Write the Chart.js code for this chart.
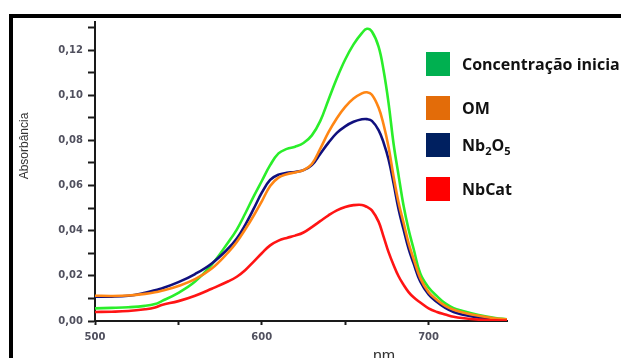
<!DOCTYPE html>
<html>
<head>
<meta charset="utf-8">
<script src="https://cdn.jsdelivr.net/npm/chart.js@4/dist/chart.umd.min.js"></script>
<style>
  html, body { margin: 0; padding: 0; background: #fff; overflow: hidden; }
  #wrap { position: relative; width: 621px; height: 358px; }
  #frame { position: absolute; left: 9px; top: 14px; width: 700px; height: 400px;
           border-top: 4px solid #000; border-left: 4px solid #000; pointer-events: none; }
  #chartBox { position: absolute; left: 0; top: 0; width: 621px; height: 358px; }
  .ytitle { position: absolute; left: 24px; top: 146px; transform: translate(-50%, -50%) rotate(-90deg);
            font: 12px "Liberation Sans", Arial, sans-serif; color: #333; white-space: nowrap; }
  .xtitle { position: absolute; left: 384px; top: 348px; transform: translateX(-50%);
            font: 16px/16px "Liberation Sans", Arial, sans-serif; color: #333; }
  .legend { position: absolute; left: 426px; top: 0; font: bold 16px "Open Sans", sans-serif; color: #111; }
  .legend .row { position: absolute; left: 0; display: flex; align-items: center; height: 24px; white-space: nowrap; }
  .legend .sw { width: 24px; height: 24px; flex: none; }
  .legend .txt { margin-left: 12px; }
  .legend sub { font-size: 11px; vertical-align: -4px; line-height: 0; }
</style>
</head>
<body>
<div id="wrap">
  <div id="chartBox"><canvas id="chartUV"></canvas></div>
  <div id="frame"></div>
  <div class="ytitle">Absorbância</div>
  <div class="xtitle">nm</div>
  <div class="legend" id="legend"></div>
</div>
<script>
// ── UV-Vis spectra ──────────────────────────
const wavelengths = [500, 510, 520, 530, 536, 540, 550, 560, 570, 580, 585, 590, 595, 600, 605,
  610, 615, 620, 625, 630, 635, 640, 645, 650, 655, 660, 663, 666, 670, 673, 676, 679, 682,
  685, 688, 691, 695, 700, 705, 710, 715, 720, 730, 740, 747];

const concInicial = [0.0056, 0.0058, 0.0061, 0.0067, 0.0075, 0.0088, 0.0125, 0.0175, 0.0250, 0.0350,
  0.0405, 0.0475, 0.0550, 0.0620, 0.0690, 0.0742, 0.0762, 0.0772, 0.0788, 0.0822, 0.0885, 0.0980,
  0.1075, 0.1158, 0.1225, 0.1275, 0.1294, 0.1282, 0.1215, 0.1110, 0.0965, 0.0785, 0.0645, 0.0510,
  0.0405, 0.0320, 0.0210, 0.0148, 0.0110, 0.0078, 0.0057, 0.0045, 0.0026, 0.0013, 0.0008];

const om = [0.0112, 0.0111, 0.0113, 0.0120, 0.0127, 0.0134, 0.0155, 0.0185, 0.0232, 0.0305,
  0.0350, 0.0405, 0.0465, 0.0530, 0.0598, 0.0635, 0.0650, 0.0658, 0.0668, 0.0695, 0.0762, 0.0836,
  0.0898, 0.0948, 0.0985, 0.1008, 0.1013, 0.1002, 0.0945, 0.0870, 0.0770, 0.0640, 0.0525, 0.0435,
  0.0345, 0.0275, 0.0190, 0.0128, 0.0093, 0.0067, 0.0050, 0.0039, 0.0023, 0.0011, 0.0007];

const nb2o5 = [0.0108, 0.0108, 0.0112, 0.0125, 0.0136, 0.0144, 0.0172, 0.0208, 0.0255, 0.0322,
  0.0365, 0.0425, 0.0495, 0.0568, 0.0625, 0.0648, 0.0656, 0.0660, 0.0668, 0.0690, 0.0740, 0.0790,
  0.0833, 0.0862, 0.0882, 0.0893, 0.0894, 0.0886, 0.0845, 0.0790, 0.0715, 0.0610, 0.0495, 0.0405,
  0.0320, 0.0255, 0.0175, 0.0118, 0.0084, 0.0058, 0.0040, 0.0029, 0.0015, 0.0008, 0.0005];

const nbcat = [0.0040, 0.0041, 0.0044, 0.0052, 0.0060, 0.0071, 0.0088, 0.0112, 0.0143, 0.0176,
  0.0196, 0.0225, 0.0262, 0.0300, 0.0335, 0.0356, 0.0368, 0.0378, 0.0392, 0.0416, 0.0442, 0.0468,
  0.0490, 0.0505, 0.0513, 0.0514, 0.0505, 0.0490, 0.0440, 0.0374, 0.0305, 0.0248, 0.0198, 0.0160,
  0.0128, 0.0105, 0.0082, 0.0056, 0.0040, 0.0029, 0.0019, 0.0013, 0.0006, 0.0003, 0.0002];

const seriesNames = ["Concentração inicial", "OM", "Nb2O5", "NbCat"];
const legendLabels = ["Concentração inicia", "OM", "Nb<sub>2</sub>O<sub>5</sub>", "NbCat"];
const lineColors = ["#2aee2a", "#ff8614", "#10107e", "#ff1414"];
const swatchColors = ["#00b050", "#e36c09", "#002060", "#ff0000"];
const legendTops = [52, 96, 133, 177];

const yTickLabel = (v) =>
  Math.round(v * 100) % 2 === 0 ? v.toFixed(2).replace(".", ",") : "";
const xTickLabel = (v) => (v % 100 === 0 ? String(v) : "");

const toPoints = (ys) => wavelengths.map((x, i) => ({ x, y: ys[i] }));
const allSeries = [concInicial, om, nb2o5, nbcat];
const drawOrder = [4, 2, 3, 1];

const tickFont = { family: "DejaVu Sans", size: 10, weight: "bold" };

new Chart(document.getElementById("chartUV"), {
  type: "line",
  data: {
    datasets: allSeries.map((ys, i) => ({
      label: seriesNames[i],
      data: toPoints(ys),
      borderColor: lineColors[i],
      borderWidth: 2.6,
      pointRadius: 0,
      tension: 0.4,
      order: drawOrder[i],
    })),
  },
  options: {
    responsive: true,
    maintainAspectRatio: false,
    animation: false,
    layout: { padding: { left: 0, top: 22, right: 114, bottom: 0 } },
    plugins: { legend: { display: false }, tooltip: { enabled: false } },
    scales: {
      x: {
        type: "linear",
        min: 500,
        max: 747,
        afterFit: (scale) => { scale.height = 37; },
        border: { display: true, color: "#1a1a1a", width: 2 },
        grid: { drawOnChartArea: false, drawTicks: true, tickLength: 4, tickColor: "#1a1a1a", tickWidth: 2 },
        ticks: {
          stepSize: 50,
          includeBounds: false,
          autoSkip: false,
          maxRotation: 0,
          padding: 6,
          color: "#50505e",
          font: tickFont,
          callback: xTickLabel,
        },
      },
      y: {
        type: "linear",
        min: 0,
        max: 0.1324,
        afterFit: (scale) => { scale.width = 95; },
        border: { display: true, color: "#1a1a1a", width: 2 },
        grid: { drawOnChartArea: false, drawTicks: true, tickLength: 7, tickColor: "#1a1a1a", tickWidth: 2 },
        ticks: {
          stepSize: 0.01,
          includeBounds: false,
          autoSkip: false,
          padding: 5,
          color: "#50505e",
          font: tickFont,
          callback: yTickLabel,
        },
      },
    },
  },
});

const legendEl = document.getElementById("legend");
legendLabels.forEach((html, i) => {
  const row = document.createElement("div");
  row.className = "row";
  row.style.top = legendTops[i] + "px";
  row.innerHTML = `<span class="sw" style="background:${swatchColors[i]}"></span><span class="txt">${html}</span>`;
  legendEl.appendChild(row);
});
</script>
</body>
</html>
